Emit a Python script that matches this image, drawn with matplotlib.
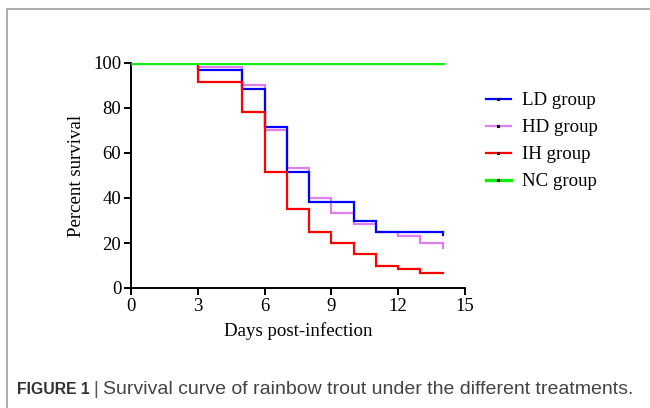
import matplotlib
matplotlib.use("Agg")
import matplotlib.pyplot as plt
from matplotlib.patches import Rectangle
from matplotlib.lines import Line2D

days = [0, 3, 5, 6, 7, 8, 9, 10, 11, 12, 13, 14]
ld = [100, 96.7, 88.3, 71.7, 51.7, 38.3, 38.3, 30.0, 25.0, 25.0, 25.0, 25.0]
hd = [100, 98.3, 90.0, 70.0, 53.3, 40.0, 33.3, 28.3, 25.0, 23.3, 20.0, 20.0]
ih = [100, 91.7, 78.3, 51.7, 35.0, 25.0, 20.0, 15.0, 10.0, 8.3, 6.7, 6.7]
nc = [100, 100, 100, 100, 100, 100, 100, 100, 100, 100, 100, 100]
labels = ["LD group", "HD group", "IH group", "NC group"]
colors = ["#0000ff", "#e07ef0", "#ff0000", "#11ee11"]
xticks = [0, 3, 6, 9, 12, 15]
yticks = [0, 20, 40, 60, 80, 100]

serif = ["Liberation Serif", "DejaVu Serif"]
fig = plt.figure(figsize=(6.5, 4.08), dpi=100)
fig.patches.append(Rectangle((7/650, -0.1), 1.2, (408-9)/408 + 0.1, transform=fig.transFigure,
                             fill=False, edgecolor="#a0a0a0", linewidth=1.2))
ax = fig.add_axes([131/650, 120/408, 334/650, 225/408])

series = [ld, hd, ih, nc]
widths = [1.6, 1.6, 1.6, 2.4]
zorders = [3, 2, 4, 5]
handles = []
for s, lab, c, w, z in zip(series, labels, colors, widths, zorders):
    ax.step(days, s, where="post", color=c, lw=w, zorder=z, solid_joinstyle="miter")
    handles.append(Line2D([], [], color=c, lw=w, marker="s", ms=1.3,
                          mfc="black", mec="black", label=lab))

# small censor marks at the end of LD and HD curves
ax.plot([days[-1], days[-1]], [ld[-1], ld[-1] - 1.5], color=colors[0], lw=1.6, zorder=3)
ax.plot([days[-1], days[-1]], [hd[-1], hd[-1] - 2.0], color=colors[1], lw=1.6, zorder=2)

ax.set_xlim(0, 15)
ax.set_ylim(0, 100)
ax.set_xticks(xticks)
ax.set_yticks(yticks)
for side in ["top", "right"]:
    ax.spines[side].set_visible(False)
for side in ["left", "bottom"]:
    ax.spines[side].set_linewidth(1.4)
    ax.spines[side].set_color("black")
ax.tick_params(direction="out", length=5, width=1.4, labelsize=13.5, pad=2)
for t in ax.get_xticklabels() + ax.get_yticklabels():
    t.set_fontfamily(serif)
ax.set_xlabel("Days post-infection", fontsize=13.6, family=serif, labelpad=5)
ax.set_ylabel("Percent survival", fontsize=13.6, family=serif, labelpad=6)

leg = ax.legend(handles=handles, loc="upper left", frameon=False,
                prop={"family": serif, "size": 13.6}, handlelength=1.3,
                handletextpad=0.62, labelspacing=0.52, borderaxespad=0, borderpad=0)
leg.set_bbox_to_anchor((486/650, (408-92)/408), transform=fig.transFigure)

cy = (408-389)/408
fig.text(17/650, cy, "FIGURE 1", fontsize=11.3, fontweight="bold", family="Liberation Sans",
         color="#333333", va="center", ha="left")
fig.text(96/650, cy, "|", fontsize=13.5, family="Liberation Sans", color="#555555",
         va="center", ha="center")
fig.text(103/650, cy, "Survival curve of rainbow trout under the different treatments.",
         fontsize=14.0, family="Liberation Sans", color="#444444", va="center", ha="left")

fig.savefig("out.png", dpi=100)
